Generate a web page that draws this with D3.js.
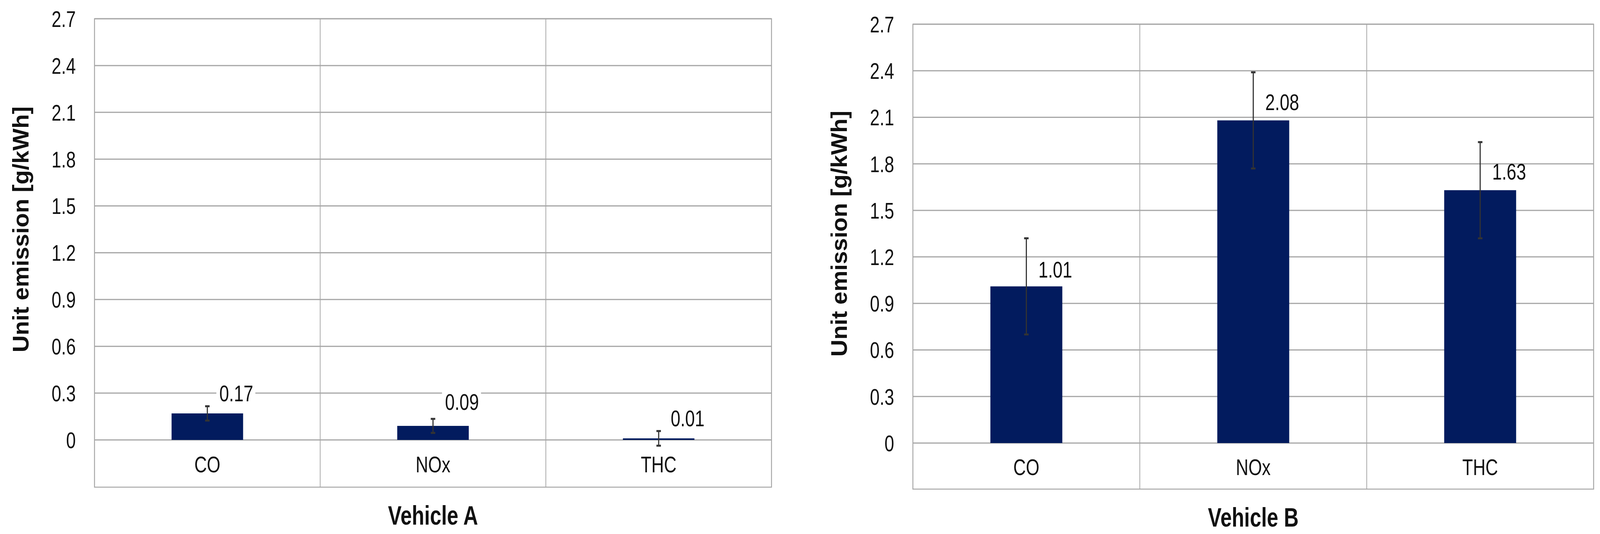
<!DOCTYPE html>
<html><head><meta charset="utf-8">
<script src="https://cdn.jsdelivr.net/npm/d3@7"></script>
<style>html,body{margin:0;padding:0;overflow:hidden;background:#fff}svg{display:block}</style></head>
<body><svg id="c" viewBox="0 0 4266 1368" preserveAspectRatio="none" style="width:100vw;height:100vh"></svg>
<script>
const categories = ["CO","NOx","THC"];
const valuesA = [0.17,0.09,0.01];
const errorsA = [0.046,0.045,0.047];
const valuesB = [1.01,2.08,1.63];
const errorsB = [0.31,0.31,0.31];
const labelsA = ["0.17","0.09","0.01"];
const labelsB = ["1.01","2.08","1.63"];
const yTicks = [0,0.3,0.6,0.9,1.2,1.5,1.8,2.1,2.4,2.7];
const titles = ["Vehicle A","Vehicle B"];

const svg = d3.select("#c");
const font = "'Liberation Sans',Arial,sans-serif";
const SX = 0.8; // narrow text
function ntext(g, x, y, txt, anchor, size, bold){
  const t = g.append("g").attr("transform",`translate(${x},${y}) scale(${SX},1)`);
  t.append("text").attr("dy","0.36em").attr("text-anchor",anchor).attr("font-family",font)
    .attr("font-size",size).attr("font-weight",bold?"bold":"normal").attr("fill","#111").text(txt);
}
const panels = [
 {x0:252,x1:2057,yTop:48,y0:1127,bottom:1248,vals:valuesA,errs:errorsA,labs:labelsA,title:titles[0],labOff:[0.13,0.155,0.13],bg:true,ytitleX:54},
 {x0:2434,x1:4249,yTop:62,y0:1135,bottom:1253,vals:valuesB,errs:errorsB,labs:labelsB,title:titles[1],labOff:[0.11,0.12,0.12],bg:false,ytitleX:2236}
];
panels.forEach(p=>{
  const g = svg.append("g");
  const x = d3.scaleBand().domain(categories).range([p.x0,p.x1]);
  const y = d3.scaleLinear().domain([0,2.7]).range([p.y0,p.yTop]);
  g.append("rect").attr("x",p.x0).attr("y",p.yTop).attr("width",p.x1-p.x0).attr("height",p.bottom-p.yTop)
    .attr("fill","none").attr("stroke","#a6a6a6").attr("stroke-width",2.5);
  g.selectAll(".hg").data(yTicks).join("line").attr("x1",p.x0).attr("x2",p.x1)
    .attr("y1",d=>y(d)).attr("y2",d=>y(d)).attr("stroke","#a6a6a6").attr("stroke-width",3);
  g.selectAll(".vg").data(categories.slice(1)).join("line").attr("x1",d=>x(d)).attr("x2",d=>x(d))
    .attr("y1",p.yTop).attr("y2",p.bottom).attr("stroke","#a6a6a6").attr("stroke-width",2);
  yTicks.forEach(d=>ntext(g,p.x0-50,y(d),d===0?"0":d3.format(".1f")(d),"end",58,false));
  const bw = x.bandwidth()*0.317;
  const cx = d=>x(d)+x.bandwidth()/2;
  g.selectAll(".bar").data(categories).join("rect")
    .attr("x",d=>cx(d)-bw/2).attr("width",bw)
    .attr("y",(d,i)=>y(p.vals[i])).attr("height",(d,i)=>y(0)-y(p.vals[i]))
    .attr("fill","#021b5e");
  categories.forEach((c,i)=>{
    const top=y(p.vals[i]+p.errs[i]), bot=y(p.vals[i]-p.errs[i]);
    g.append("line").attr("x1",cx(c)).attr("x2",cx(c)).attr("y1",top).attr("y2",bot).attr("stroke","#333").attr("stroke-width",3);
    [top,bot].forEach(yy=>g.append("line").attr("x1",cx(c)-6).attr("x2",cx(c)+6).attr("y1",yy).attr("y2",yy).attr("stroke","#333").attr("stroke-width",5));
    const ly = y(p.vals[i]+p.labOff[i]);
    if(p.bg) g.append("rect").attr("x",cx(c)+24).attr("y",ly-32).attr("width",104).attr("height",64).attr("fill","#fff");
    ntext(g,cx(c)+32,ly,p.labs[i],"start",58,false);
  });
  categories.forEach(c=>ntext(g,cx(c),(p.y0+p.bottom)/2+2,c,"middle",58,false));
  ntext(g,(p.x0+p.x1)/2,p.bottom+72,p.title,"middle",68,true);
  g.append("text").attr("transform",`translate(${p.ytitleX},${(p.yTop+p.y0)/2}) rotate(-90)`).attr("dy","0.36em")
    .attr("text-anchor","middle").attr("font-family",font).attr("font-weight","bold")
    .attr("font-size",60).attr("fill","#111").text("Unit emission [g/kWh]");
});
</script></body></html>
